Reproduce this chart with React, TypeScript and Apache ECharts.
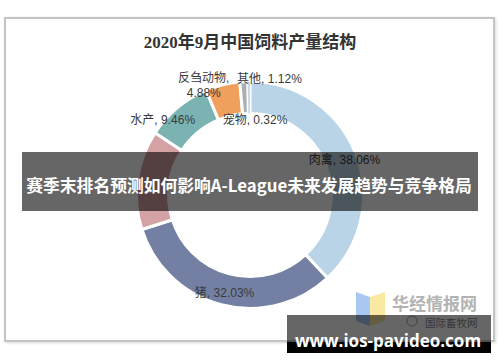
import React, { useEffect, useRef } from 'react';
import * as echarts from 'echarts';

const titleText = '2020年9月中国饲料产量结构';
const categories = ['肉禽', '猪', '蛋禽', '水产', '反刍动物', '其他', '宠物'];
const shares = [38.06, 32.03, 14.13, 9.46, 4.88, 1.12, 0.32];
const hiddenLabels = ['蛋禽'];
const wrappedLabels = ['反刍动物'];
const bannerText = '赛季末排名预测如何影响A-League未来发展趋势与竞争格局';
const watermarkText = 'www.ios-pavideo.com';
const logoText = '华经情报网';
const logoSubText = '国际畜牧网';

const sliceColors = ['#b9d4e6', '#7480a3', '#d4a1a4', '#7ab3b1', '#f0a05c', '#aab1b2', '#c9d9e4'];
const labelShift: number[][] = [[1, 2], [0, 1], [0, 0], [-23, 2], [-22, -12], [25, -16], [6, 25]];

const CJK = '"Noto Sans CJK SC"';

export default function App() {
  const ref = useRef<HTMLDivElement>(null);
  useEffect(() => {
    const chart = echarts.init(ref.current!, null, { renderer: 'svg' });
    chart.setOption({
      animation: false,
      backgroundColor: '#ffffff',
      title: {
        text: titleText,
        left: 'center',
        top: 29,
        textStyle: {
          fontFamily: '"Liberation Serif", ' + CJK,
          fontWeight: 'bold',
          fontSize: 17,
          color: '#333333',
        },
      },
      series: [
        {
          type: 'pie',
          center: [250, 195],
          radius: [81.5, 113.5],
          startAngle: 90,
          clockwise: true,
          z: 5,
          itemStyle: { borderColor: '#ffffff', borderWidth: 3 },
          label: {
            show: true,
            position: 'inside',
            color: '#3a3a3a',
            fontSize: 12,
            fontFamily: '"Liberation Sans", ' + CJK,
            lineHeight: 15,
            formatter: (p: any) =>
              p.name + ',' + (wrappedLabels.includes(p.name) ? '\n' : ' ') + p.value.toFixed(2) + '%',
          },
          labelLine: { show: false },
          labelLayout: (p: any) => ({ dx: labelShift[p.dataIndex][0], dy: labelShift[p.dataIndex][1] }),
          data: categories.map((name, i) => ({
            name,
            value: shares[i],
            itemStyle: { color: sliceColors[i], borderWidth: name === '宠物' ? 0 : 3 },
            label: { show: !hiddenLabels.includes(name) },
          })),
        },
      ],
      graphic: [
        {
          type: 'rect',
          z: 0,
          shape: { x: 5, y: 18, width: 489, height: 323 },
          style: {
            fill: '#ffffff',
            stroke: '#c4c4c4',
            lineWidth: 2,
            shadowBlur: 3,
            shadowColor: 'rgba(0,0,0,0.15)',
            shadowOffsetX: 1,
            shadowOffsetY: 1,
          },
        },
        {
          type: 'polygon',
          z: 20,
          shape: { points: [[356, 292], [370, 297], [370, 326], [356, 321]] },
          style: { fill: '#a9c9f2' },
        },
        {
          type: 'polygon',
          z: 20,
          shape: { points: [[370, 297], [385, 292], [385, 321], [370, 326]] },
          style: { fill: '#f9e9a3' },
        },
        {
          type: 'text',
          z: 20,
          style: {
            x: 392,
            y: 302,
            text: logoText,
            fill: '#b3b3b3',
            font: 'bold 17px ' + CJK,
            textVerticalAlign: 'middle',
          },
        },
        {
          type: 'circle',
          z: 20,
          shape: { cx: 412, cy: 321, r: 5 },
          style: { fill: 'none', stroke: '#9a9a9a', lineWidth: 1 },
        },
        {
          type: 'text',
          z: 20,
          style: {
            x: 425,
            y: 322,
            text: logoSubText,
            fill: '#8a8a8a',
            font: '10.5px ' + CJK,
            textVerticalAlign: 'middle',
          },
        },
        {
          type: 'rect',
          z: 100,
          shape: { x: 22, y: 152, width: 456, height: 59 },
          style: { fill: 'rgba(0,0,0,0.6)' },
        },
        {
          type: 'text',
          z: 101,
          style: {
            x: 249,
            y: 185,
            text: bannerText,
            fill: '#ffffff',
            font: 'bold 16.8px ' + CJK,
            textAlign: 'center',
            textVerticalAlign: 'middle',
          },
        },
        {
          type: 'rect',
          z: 100,
          shape: { x: 287, y: 315, width: 204, height: 27 },
          style: { fill: 'rgba(0,0,0,0.6)' },
        },
        {
          type: 'rect',
          z: 100,
          shape: { x: 287, y: 342, width: 204, height: 11 },
          style: { fill: '#000000' },
        },
        {
          type: 'text',
          z: 101,
          style: {
            x: 388,
            y: 340,
            text: watermarkText,
            fill: '#ffffff',
            font: 'bold 17px "Open Sans"',
            textAlign: 'center',
            textVerticalAlign: 'middle',
          },
        },
      ],
    });
    return () => chart.dispose();
  }, []);
  return <div ref={ref} style={{ position: 'absolute', left: 0, top: 0, width: 500, height: 362 }} />;
}
